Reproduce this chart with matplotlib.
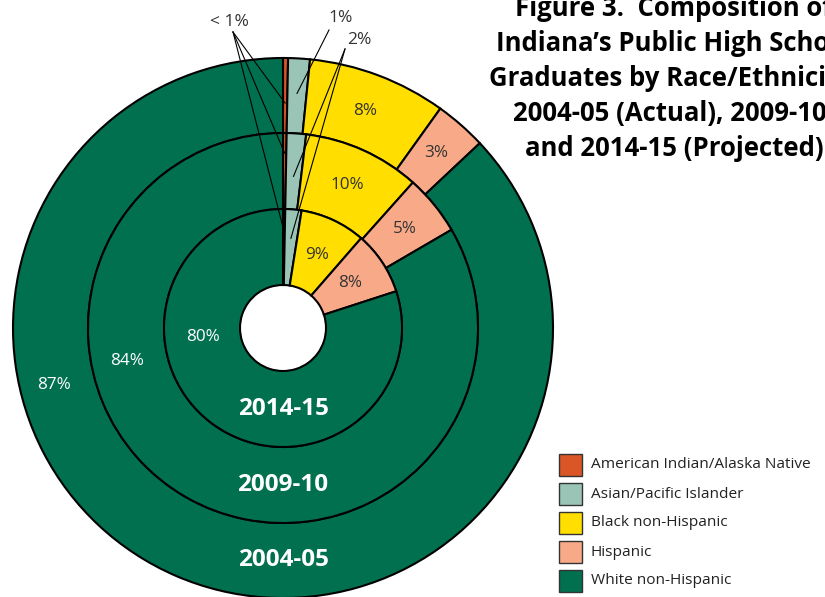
import numpy as np
import matplotlib.pyplot as plt
from matplotlib.patches import Rectangle

# race/ethnicity groups, clockwise from 12 o'clock
categories = ['American Indian/Alaska Native', 'Asian/Pacific Islander',
              'Black non-Hispanic', 'Hispanic', 'White non-Hispanic']
colors = ['#DA5626', '#9AC5B6', '#FFDE00', '#F8AA88', '#00704F']

years = ['2004-05', '2009-10', '2014-15']
share_2004 = [0.3, 1.3, 8.3, 3.1, 87.0]
share_2009 = [0.3, 1.6, 9.7, 5.0, 83.4]
share_2014 = [0.3, 2.2, 8.9, 8.6, 80.0]
labels_2004 = ['<1%', '1%', '8%', '3%', '87%']
labels_2009 = ['<1%', '2%', '10%', '5%', '84%']
labels_2014 = ['<1%', '2%', '9%', '8%', '80%']

title_lines = ['Figure 3.  Composition of',
               'Indiana\u2019s Public High School',
               'Graduates by Race/Ethnicity,',
               '2004-05 (Actual), 2009-10,',
               'and 2014-15 (Projected)']

W, H = 825, 597
fig = plt.figure(figsize=(W / 100, H / 100), dpi=100)
ax = fig.add_axes([0, 0, 1, 1])

cx, cy = 283, H - 328
rings = [(share_2004, labels_2004, 270, 75),
         (share_2009, labels_2009, 195, 76),
         (share_2014, labels_2014, 119, 76)]


def polar(r, frac):
    a = np.deg2rad(90 - 360 * frac)
    return cx + r * np.cos(a), cy + r * np.sin(a)


FONT = 'Open Sans'
white_frac = [0.711, 0.717, 0.733]
white_r = [236, 159, 80]

for k, (vals, labs, r, w) in enumerate(rings):
    ax.pie(vals, radius=r, center=(cx, cy), colors=colors, startangle=90,
           counterclock=False, frame=True,
           wedgeprops=dict(width=w, edgecolor='black', linewidth=1.5))
    cum = np.cumsum([0] + vals) / 100.0
    mid_r = r - w / 2
    # black and hispanic labels inside their wedges
    for i in (2, 3):
        x, y = polar(mid_r, (cum[i] + cum[i + 1]) / 2)
        ax.text(x, y, labs[i], ha='center', va='center', fontsize=12.3,
                color='#333333', family=FONT)
    x, y = polar(white_r[k], white_frac[k])
    ax.text(x, y, labs[4], ha='center', va='center', fontsize=12.3,
            color='white', family=FONT)
    ax.text(cx, cy - mid_r, years[k], ha='center', va='center', fontsize=17.5,
            color='white', family=FONT, fontweight='bold')

# small-slice callouts with leader lines
def callout(text, tx, ty, sx, sy, ends):
    ax.text(tx, H - ty, text, ha='center', va='center', fontsize=12.5,
            color='#333333', family=FONT)
    for ex, ey in ends:
        ax.plot([sx, ex], [H - sy, ey], color='black', lw=0.8)

cum04 = np.cumsum([0] + share_2004) / 100.0
cum09 = np.cumsum([0] + share_2009) / 100.0
cum14 = np.cumsum([0] + share_2014) / 100.0
callout('< 1%', 229, 22, 233, 32,
        [polar(225, cum04[1] / 2), polar(175, cum09[1] / 2), polar(97, cum14[1] / 2)])
callout('1%', 341, 18, 329, 30, [polar(235, (cum04[1] + cum04[2]) / 2)])
callout('2%', 359, 40, 345, 49,
        [polar(152, (cum09[1] + cum09[2]) / 2), polar(90, (cum14[1] + cum14[2]) / 2)])

# title, clipped at the right edge like the source
for i, line in enumerate(title_lines):
    ax.text(674, H - (16 + 35 * i), line, ha='center', va='baseline',
            fontsize=18.5, fontweight='bold', family=FONT, color='black')

# legend
for i, (cat, col) in enumerate(zip(categories, colors)):
    yc = H - (465 + 29 * i)
    ax.add_patch(Rectangle((559, yc - 11), 23, 22, facecolor=col,
                           edgecolor='#333333', lw=1))
    ax.text(591, yc, cat, ha='left', va='center', fontsize=11.1,
            family=FONT, color='#222222')

ax.set_xlim(0, W)
ax.set_ylim(0, H)
ax.set_aspect('auto')
ax.axis('off')
fig.savefig('out.png', dpi=100)
